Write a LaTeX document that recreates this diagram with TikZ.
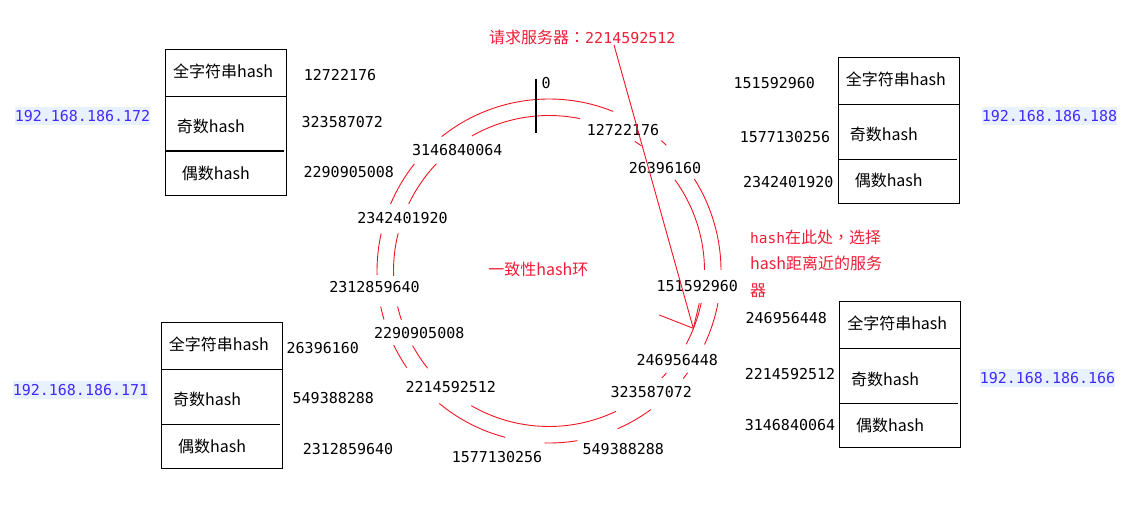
\documentclass[tikz,border=0pt]{standalone}
\usepackage{fontspec}
\setmainfont{Noto Sans CJK SC}
\newfontfamily\monofont{DejaVu Sans Mono}
\newfontfamily\punctfont{Noto Sans CJK TC}
\usetikzlibrary{calc}
\definecolor{ringred}{RGB}{245,20,35}
\definecolor{txtred}{RGB}{240,30,55}
\definecolor{ipblue}{RGB}{70,40,250}
\definecolor{ipbg}{RGB}{232,242,254}
\tikzset{
  num/.style={font=\monofont\fontsize{15}{18}\selectfont, inner sep=0pt, text height=10.9pt, text depth=0pt},
  cjk/.style={font=\fontsize{16}{19}\selectfont, inner sep=0pt, text height=13.3pt, text depth=1.1pt},
  redtxt/.style={cjk, text=txtred},
  ip/.style={font=\monofont\fontsize{15}{18}\selectfont, text=ipblue, fill=ipbg, inner xsep=0pt, inner ysep=0pt, text height=14.5pt, text depth=3.5pt},
  ring/.style={draw=ringred, line width=0.9pt},
  box/.style={draw=black, line width=1.2pt, inner sep=0pt, minimum width=121pt, minimum height=146pt},
  divider/.style={draw=black, line width=1.2pt},
}
\begin{document}
\begin{tikzpicture}[x=1pt,y=1pt]
\fill[white] (0,0) rectangle (1123,-518);
\useasboundingbox (0,0) rectangle (1123,-518);

% ---------- ring ----------
\coordinate (C) at (549,-271);
\foreach \a/\b in {68.1/128.6, 47/49.3, 0.3/32.3, -25.3/-10.8, -38.7/-36.3, -66.5/-53.7,
                   -91.5/-80.5, -129.6/-104.7, -154.5/-145.8, -168.1/-163.6, 167.4/181.3, 141.5/157.1}
  \draw[ring] (C) ++(\a:172) arc[start angle=\a, end angle=\b, radius=172];
\foreach \a/\b in {78.5/119.7, 53.6/56.5, 0.4/35.9, -28.1/-11.8, -43.5/-41, -120/-64.5,
                   -151.3/-141.3, -166.8/-161.7, 166/181.8, 136.4/154.5}
  \draw[ring] (C) ++(\a:155.5) arc[start angle=\a, end angle=\b, radius=155.5];

% zero tick
\coordinate (tickT) at (536,-79.3);
\coordinate (tickB) at (536,-133.3);
\draw[black, line width=1.2pt] (tickT) -- (tickB);
\node[num] (z0) at (546.2,-83) {0};

% ring labels
\node[num] (r1) at (623,-130) {12722176};
\node[num] (r2) at (665,-168.3) {26396160};
\node[num] (r3) at (697.3,-286) {151592960};
\node[num] (r4) at (677.3,-360) {246956448};
\node[num] (r5) at (651.3,-392.5) {323587072};
\node[num] (r6) at (623.3,-449) {549388288};
\node[num] (r7) at (497,-457) {1577130256};
\node[num] (r8) at (450.8,-387) {2214592512};
\node[num] (r9) at (419.2,-333) {2290905008};
\node[num] (r10) at (374.5,-287) {2312859640};
\node[num] (r11) at (402.5,-218) {2342401920};
\node[num] (r12) at (457.2,-150) {3146840064};

\node[redtxt] (title) at (538.3,-269.2) {一致性hash环};

% request + arrow
\node[redtxt, anchor=west] (req) at (489,-37.5) {请求服务器{\punctfont ：}{\monofont\fontsize{15}{18}\selectfont 2214592512}};
\coordinate (reqA) at (614,-45);
\coordinate (hit) at (693.3,-328.3);
\coordinate (barbA) at (659.3,-315);
\coordinate (barbB) at (699.3,-303.3);
\draw[ring] (reqA) -- (hit);
\draw[ring] (barbA) -- (hit);
\draw[ring] (barbB) -- (hit);

\node[redtxt, anchor=west] (note1) at (750,-237.5) {{\monofont\fontsize{14.5}{18}\selectfont hash}在此处{\punctfont ，}选择};
\node[redtxt, anchor=west] (note2) at (750,-263.3) {hash距离近的服务};
\node[redtxt, anchor=west] (note3) at (750,-290) {器};

% ---------- box 1 : 192.168.186.172 ----------
\node[box] (box1) at (226,-122.2) {};
\draw[divider] (165.3,-96.7) -- (286.7,-96.7);
\draw[divider] (165.3,-151) -- (284,-151);
\node[cjk] (b1a) at (223,-71) {全字符串hash};
\node[cjk] (b1b) at (210.8,-126.3) {奇数hash};
\node[cjk] (b1c) at (215.8,-173.3) {偶数hash};
\node[num] (n1a) at (340,-75) {12722176};
\node[num] (n1b) at (342.3,-122.5) {323587072};
\node[num] (n1c) at (348.8,-172.2) {2290905008};
\node[ip] (ip1) at (82.5,-116) {192.168.186.172};

% ---------- box 2 : 192.168.186.188 ----------
\node[box] (box2) at (898.8,-130.3) {};
\draw[divider] (838.3,-104.3) -- (959.3,-104.3);
\draw[divider] (838.3,-159.3) -- (956.7,-159.3);
\node[cjk] (b2a) at (895.8,-79.2) {全字符串hash};
\node[cjk] (b2b) at (883.8,-134.2) {奇数hash};
\node[cjk] (b2c) at (888.7,-180.8) {偶数hash};
\node[num] (n2a) at (774.3,-82.8) {151592960};
\node[num] (n2b) at (785,-137.5) {1577130256};
\node[num] (n2c) at (788.2,-182.2) {2342401920};
\node[ip] (ip2) at (1049.5,-116) {192.168.186.188};

% ---------- box 3 : 192.168.186.171 ----------
\node[box] (box3) at (222,-395.3) {};
\draw[divider] (161.3,-369.7) -- (282.7,-369.7);
\draw[divider] (161.3,-424.3) -- (280,-424.3);
\node[cjk] (b3a) at (218.8,-344.2) {全字符串hash};
\node[cjk] (b3b) at (207,-399.2) {奇数hash};
\node[cjk] (b3c) at (212,-446.2) {偶数hash};
\node[num] (n3a) at (322.8,-348.2) {26396160};
\node[num] (n3b) at (333.3,-398.3) {549388288};
\node[num] (n3c) at (348,-448.8) {2312859640};
\node[ip] (ip3) at (80.5,-390) {192.168.186.171};

% ---------- box 4 : 192.168.186.166 ----------
\node[box] (box4) at (900,-374.5) {};
\draw[divider] (839.3,-348.3) -- (960.7,-348.3);
\draw[divider] (839.3,-403.3) -- (958,-403.3);
\node[cjk] (b4a) at (897.2,-323.5) {全字符串hash};
\node[cjk] (b4b) at (885,-379.2) {奇数hash};
\node[cjk] (b4c) at (890,-425.8) {偶数hash};
\node[num] (n4a) at (786.3,-317.8) {246956448};
\node[num] (n4b) at (790,-374.5) {2214592512};
\node[num] (n4c) at (790,-425) {3146840064};
\node[ip] (ip4) at (1047.5,-378) {192.168.186.166};
\end{tikzpicture}
\end{document}
